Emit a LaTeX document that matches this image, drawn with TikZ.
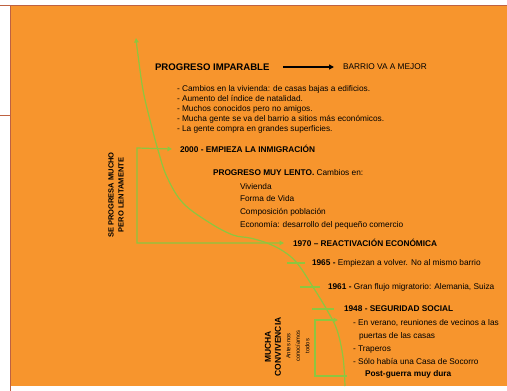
\documentclass[tikz,border=0pt]{standalone}
\usepackage{fontspec}
\setmainfont{Liberation Sans}
\usetikzlibrary{arrows.meta}
\definecolor{bgorange}{RGB}{247,149,45}
\definecolor{framebrown}{RGB}{190,98,66}
\definecolor{linegreen}{RGB}{141,198,63}
\tikzset{gtip/.tip={Triangle[length=4.5pt,width=4.5pt]}}
\begin{document}
\begin{tikzpicture}[x=1pt,y=-1pt,
  every node/.style={inner sep=0pt, outer sep=0pt, anchor=west, text=black},
  body/.style={font=\fontsize{8.3}{10}\selectfont, align=left},
  head/.style={font=\bfseries\fontsize{8.3}{10}\selectfont},
  title/.style={font=\bfseries\fontsize{9.6}{11}\selectfont},
  tl/.style={draw=linegreen, line width=1.2pt},
]
\useasboundingbox (0,0) rectangle (507,391);
\fill[white] (0,0) rectangle (507,391);
\fill[bgorange] (11,6) rectangle (507,386);
\draw[framebrown, line width=1pt] (0,5.5) -- (507,5.5);
\draw[framebrown, line width=1pt] (10.5,5) -- (10.5,391);
\draw[framebrown, line width=1pt] (0,115) -- (10.5,115);

% time line
\draw[tl, {gtip}-] plot[smooth, tension=0.6] coordinates {
  (136,38) (138,55) (143,90) (150,120) (158,150) (167,177) (183,203)
  (210,223) (233,235) (250,238) (267,243) (283,251) (297,263) (313,287)
  (327,310) (337,330) (343,357) (345,386)};

% year ticks
\coordinate (t65a) at (287,263); \coordinate (t65b) at (305,263);
\coordinate (t61a) at (300,287); \coordinate (t61b) at (320,287);
\coordinate (t48a) at (312,309); \coordinate (t48b) at (334,309);
\draw[tl] (t65a) -- (t65b);
\draw[tl] (t61a) -- (t61b);
\draw[tl] (t48a) -- (t48b);

% brackets
\node (imm) at (180,149) [head] {2000 - EMPIEZA LA INMIGRACIÓN};
\node (reac) at (293,243) [head] {1970 – REACTIVACIÓN ECONÓMICA};
\coordinate (b1tl) at (137,148);
\coordinate (b1bl) at (137,243);
\draw[tl, {gtip}-{gtip}] ([xshift=-8pt]imm.west) -- (b1tl) -- (b1bl) -- ([xshift=-9pt]reac.west);

\node (seg) at (344,309) [head] {1948 - SEGURIDAD SOCIAL};
\coordinate (b2tr) at (338,320);
\coordinate (b2tl) at (315,320);
\coordinate (b2bl) at (315,376);
\coordinate (b2br) at (347,376);
\draw[tl, {gtip}-] (b2tr) -- (b2tl) -- (b2bl) -- (b2br);

% top block
\node (prog) at (155,67) [title] {PROGRESO IMPARABLE};
\node (mejor) at (343,67) [body] {BARRIO VA A MEJOR};
\draw[black, line width=2pt, -{Triangle[length=5pt,width=5pt]}] ([xshift=14pt]prog.east) -- ([xshift=-9pt]mejor.west);
\node (list1) at (177,109) [body] {- Cambios en la vivienda: de casas bajas a edificios.\\
- Aumento del índice de natalidad.\\
- Muchos conocidos pero no amigos.\\
- Mucha gente se va del barrio a sitios más económicos.\\
- La gente compra en grandes superficies.};

% slow progress block
\node (lento) at (213,173) [body] {\textbf{PROGRESO MUY LENTO.} Cambios en:};
\node (list2) at (240,206) [body, font=\fontsize{8.3}{12.7}\selectfont] {Vivienda\\Forma de Vida\\Composición población\\Economía: desarrollo del pequeño comercio};
\node (side1) at (116,195) [anchor=center, rotate=90, align=center, font=\bfseries\fontsize{7.5}{10}\selectfont] {SE PROGRESA MUCHO\\PERO LENTAMENTE};

% years
\node (y65) at (312,263) [body] {\textbf{1965 -} Empiezan a volver. No al mismo barrio};
\node (y61) at (328,287) [body] {\textbf{1961 -} Gran flujo migratorio: Alemania, Suiza};

% post-war block
\node (list3) at (353,342) [body, font=\fontsize{8.3}{13}\selectfont] {- En verano, reuniones de vecinos a las\\
\hspace*{6pt}puertas de las casas\\
- Traperos\\
- Sólo había una Casa de Socorro};
\node (dura) at (365,374) [head] {Post-guerra muy dura};
\node (conv) at (273,347) [anchor=center, rotate=90, align=center, font=\bfseries\fontsize{8.5}{10}\selectfont] {MUCHA\\CONVIVENCIA};
\node (antes) at (298,346) [anchor=center, rotate=90, align=center, font=\fontsize{5.8}{9.5}\selectfont] {Antes nos\\conocíamos\\todos};
\end{tikzpicture}
\end{document}
